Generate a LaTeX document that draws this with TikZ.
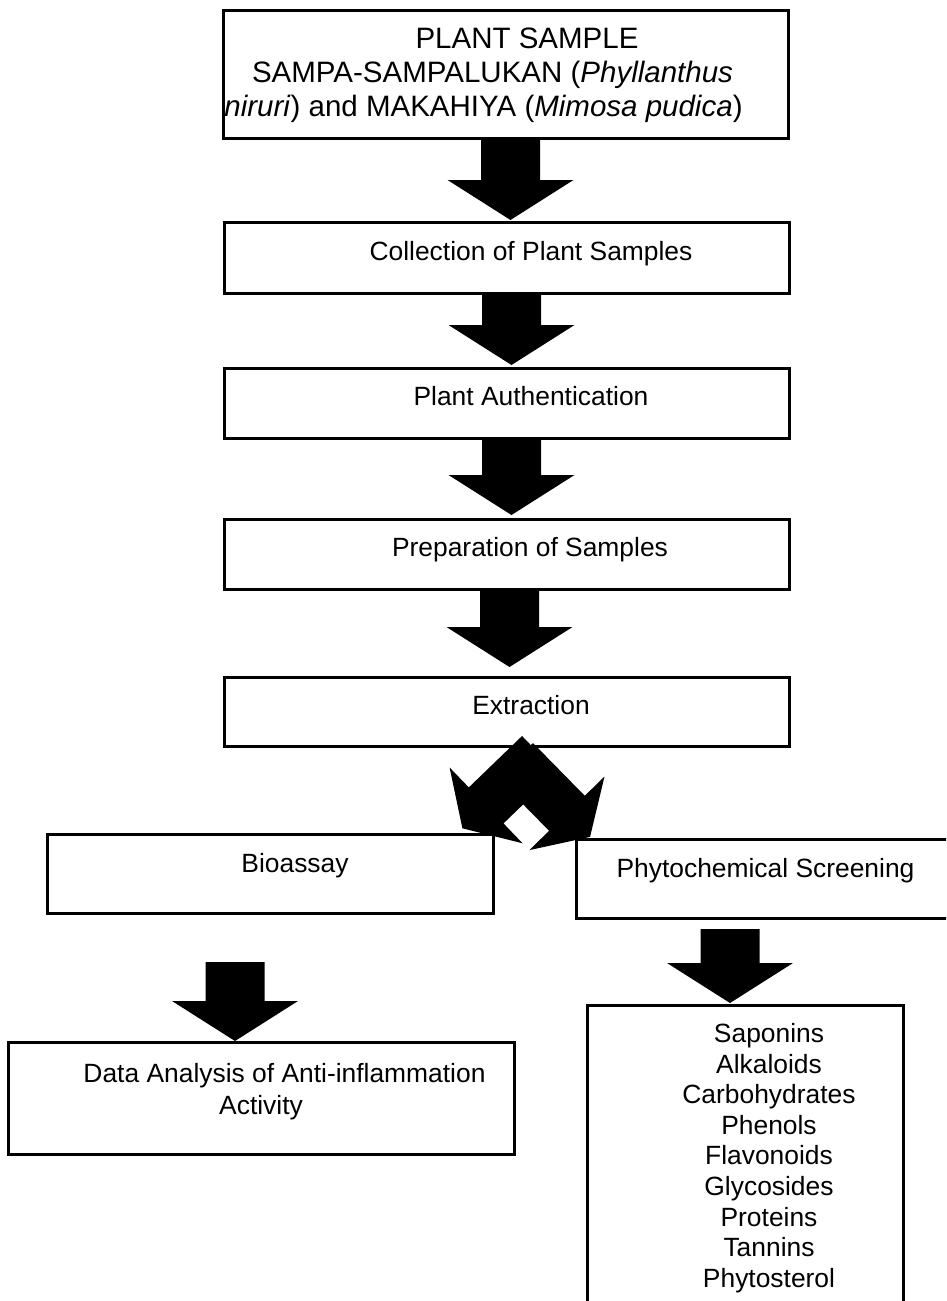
\documentclass[tikz,border=0pt]{standalone}
\usepackage{fontspec}
\setmainfont{Liberation Sans}
\usetikzlibrary{calc}
\tikzset{
  box/.style={draw=black, line width=3pt, inner sep=0pt, outer sep=0pt, anchor=north west, fill=none},
  lbl/.style={anchor=base, inner sep=0pt, outer sep=0pt, font=\fontsize{26.4}{31.6}\selectfont},
  toplbl/.style={anchor=base, inner sep=0pt, outer sep=0pt, font=\fontsize{29.5}{34}\selectfont},
  blk/.style={fill=black, draw=none}
}
% block arrow: from node, to node, x offset, top gap, bottom gap
\newcommand\blockarrow[5]{%
  \coordinate (bt) at ($(#1.south)+(#3,#4)$);
  \coordinate (bp) at ($(bt |- #2.north)+(0,-#5)$);
  \fill[blk] ($(bt)+(-29.5,0)$) -- ($(bt)+(29.5,0)$) -- ($(bp)+(29.5,-40)$) --
    ($(bp)+(63,-40)$) -- (bp) -- ($(bp)+(-63,-40)$) -- ($(bp)+(-29.5,-40)$) -- cycle;}
\begin{document}
\begin{tikzpicture}[x=1pt,y=-1pt]
\useasboundingbox (0,0) rectangle (946,1301);
\clip (0,0) rectangle (946,1301);
\fill[white] (0,0) rectangle (946,1301);

% boxes
\node[box, minimum width=565pt, minimum height=128pt] (b1) at (223,10) {};
\node[box, minimum width=565pt, minimum height=71pt] (b2) at (224,222) {};
\node[box, minimum width=565pt, minimum height=70pt] (b3) at (224,368) {};
\node[box, minimum width=565pt, minimum height=70pt] (b4) at (224,519) {};
\node[box, minimum width=565pt, minimum height=69pt] (b5) at (224,677) {};
\node[box, minimum width=446pt, minimum height=79pt] (b6) at (47,834) {};
\node[box, minimum width=394pt, minimum height=79pt] (b7) at (576,839) {};
\node[box, minimum width=506pt, minimum height=112pt] (b8) at (8,1042) {};
\node[box, minimum width=316pt, minimum height=330pt] (b9) at (587,1005) {};

% texts
\node[toplbl] (t1a) at (527,48.5) {PLANT SAMPLE};
\node[toplbl] (t1b) at (492.5,82.5) {SAMPA-SAMPALUKAN (\textit{Phyllanthus}};
\node[toplbl] (t1c) at (483.5,116.5) {\textit{niruri}) and MAKAHIYA (\textit{Mimosa pudica})};
\node[lbl] (t2) at (531,260.5) {Collection of Plant Samples};
\node[lbl] (t3) at (531,405.5) {Plant Authentication};
\node[lbl] (t4) at (530,556.5) {Preparation of Samples};
\node[lbl] (t5) at (531,714.5) {Extraction};
\node[lbl] (t6) at (295,872.5) {Bioassay};
\node[lbl] (t7) at (765.5,877.5) {Phytochemical Screening};
\node[lbl] (t8a) at (284.5,1082.5) {Data Analysis of Anti-inflammation};
\node[lbl] (t8b) at (261,1114.5) {Activity};
\foreach \t [count=\i from 0] in {Saponins,Alkaloids,Carbohydrates,Phenols,Flavonoids,Glycosides,Proteins,Tannins,Phytosterol}
  \node[lbl] (it\i) at (769,1042.5+30.6*\i) {\t};

% vertical block arrows
\blockarrow{b1}{b2}{5}{0}{2}
\blockarrow{b2}{b3}{5}{0}{3}
\blockarrow{b3}{b4}{5}{0}{4}
\blockarrow{b4}{b5}{3}{0}{10}
\blockarrow{b6}{b8}{-35}{49}{1}
\blockarrow{b7}{b9}{-43}{11}{2}

% diagonal block arrows from Extraction
\fill[blk] (522.05,736) -- (468.8,787.4) -- (449.6,767.5) -- (462.4,828.3) --
  (522.6,843.3) -- (503.5,823.4) -- (556.75,772) -- cycle;
\fill[blk] (533,743) -- (584.8,795.8) -- (604.5,776.5) -- (590.05,836.9) --
  (529.4,850.1) -- (549.1,830.8) -- (497.3,778) -- cycle;
\end{tikzpicture}
\end{document}
